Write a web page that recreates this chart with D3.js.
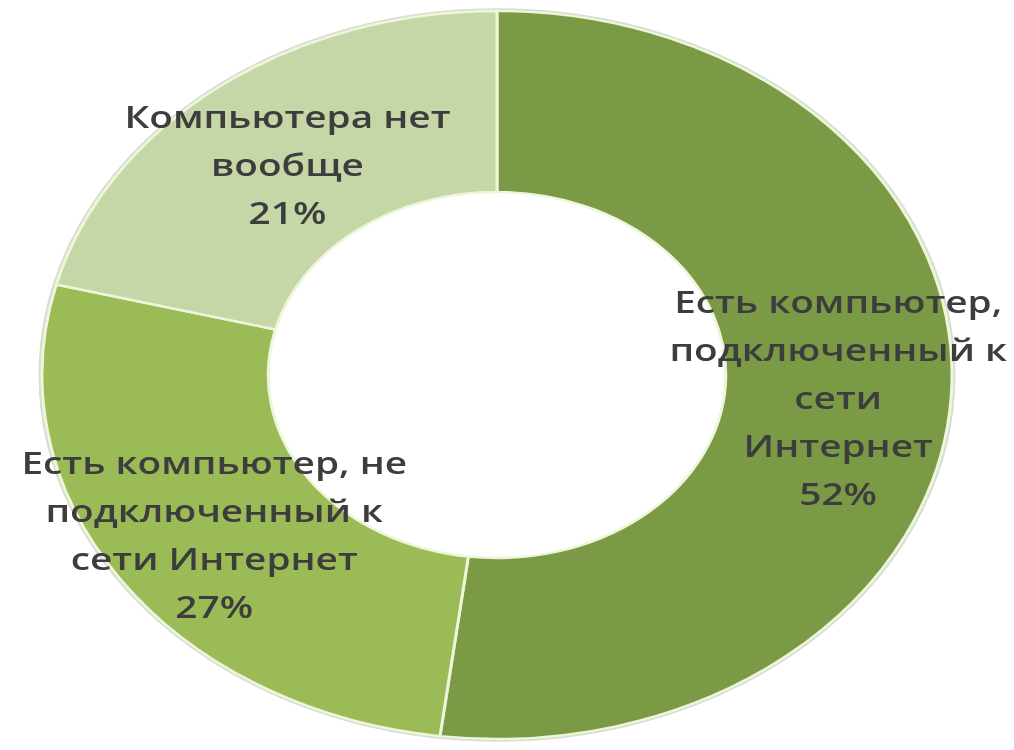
<!DOCTYPE html>
<html>
<head>
<meta charset="utf-8">
<script src="https://cdn.jsdelivr.net/npm/d3@7"></script>
<style>
  html, body { margin: 0; padding: 0; background: #ffffff; }
  svg { display: block; }
</style>
</head>
<body>
<svg id="chart" width="1014" height="750"></svg>
<script>
// ---- data ----
const categories = [
  "Есть компьютер, подключенный к сети Интернет",
  "Есть компьютер, не подключенный к сети Интернет",
  "Компьютера нет вообще"
];
const values = [52, 27, 21];
const labelLines = [
  ["Есть компьютер,", "подключенный к", "сети", "Интернет"],
  ["Есть компьютер, не", "подключенный к", "сети Интернет"],
  ["Компьютера нет", "вообще"]
];
const colors = ["#7a9a45", "#9bbb56", "#c5d6a7"];

// ---- layout ----
const W = 1014, H = 750;
const cx = 497, cy = 375;
const stretchX = 1.25;          // horizontal stretch of the original picture
const outerR = 364, innerR = 183;
const fontSize = 31, lineH = 48;

const svg = d3.select("#chart");

const defs = svg.append("defs");
const blur = defs.append("filter").attr("id", "soft").attr("x", "-5%").attr("y", "-5%").attr("width", "110%").attr("height", "110%");
blur.append("feGaussianBlur").attr("stdDeviation", 0.6);

const pie = d3.pie().sort(null).value(d => d.value);
const arcs = pie(values.map((v, i) => ({ value: v, name: categories[i], lines: labelLines[i], color: colors[i] })));
const arc = d3.arc().innerRadius(innerR).outerRadius(outerR);

const ring = svg.append("g")
  .attr("transform", `translate(${cx},${cy}) scale(${stretchX},1)`);

// faint outer shadow rim
ring.append("circle")
  .attr("r", outerR + 1.5)
  .attr("fill", "none")
  .attr("stroke", "#d8dcd2")
  .attr("stroke-width", 2.5)
  .attr("filter", "url(#soft)");

ring.selectAll("path.slice")
  .data(arcs)
  .join("path")
  .attr("class", "slice")
  .attr("d", arc)
  .attr("fill", d => d.data.color)
  .attr("stroke", "#eef6da")
  .attr("stroke-width", 2.4)
  .attr("stroke-linejoin", "round");

// labels
const labels = svg.append("g").selectAll("g.label")
  .data(arcs)
  .join("g")
  .attr("class", "label")
  .attr("transform", d => {
    const [x, y] = arc.centroid(d);
    return `translate(${cx + x * stretchX},${cy + y}) scale(${stretchX},1)`;
  });

labels.each(function(d) {
  const lines = d.data.lines.concat([d.data.value + "%"]);
  const n = lines.length;
  const t = d3.select(this).append("text")
    .attr("text-anchor", "middle")
    .attr("font-family", "'Open Sans', 'Noto Sans', sans-serif")
    .attr("font-size", fontSize)
    .attr("font-weight", 600)
    .attr("fill", "#3d3d3d")
    .attr("filter", "url(#soft)");
  lines.forEach((ln, i) => {
    t.append("tspan")
      .attr("x", 0)
      .attr("y", (i - (n - 1) / 2) * lineH)
      .attr("dy", "0.55em")
      .text(ln);
  });
});
</script>
</body>
</html>
